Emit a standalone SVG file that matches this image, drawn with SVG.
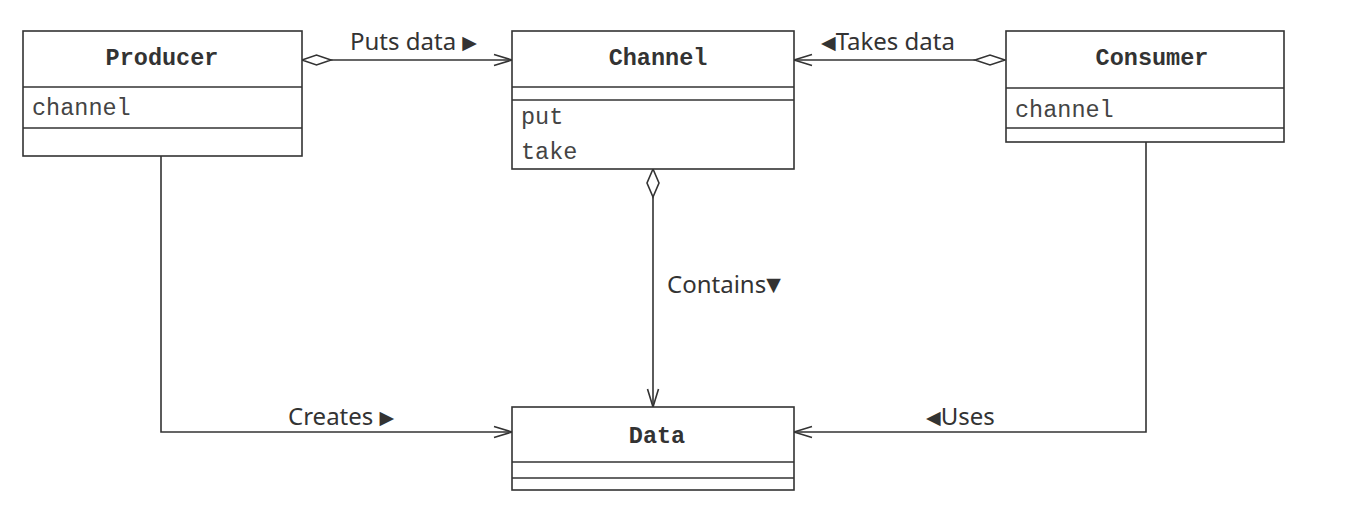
<svg xmlns="http://www.w3.org/2000/svg" width="1347" height="505" viewBox="0 0 1347 505">
<style>
.box{fill:#fff;stroke:#333;stroke-width:1.6}
.div{stroke:#333;stroke-width:1.6}
.title{font-family:"Liberation Mono",monospace;font-weight:bold;font-size:23.5px;fill:#333;text-anchor:middle}
.attr{font-family:"Liberation Mono",monospace;font-size:23.5px;fill:#444}
.lbl{font-family:"Noto Sans",sans-serif;font-size:24px;fill:#333}
.tri{font-family:"DejaVu Sans",sans-serif;font-size:19px;fill:#333}
.con{fill:none;stroke:#333;stroke-width:1.6}
.dia{fill:#fff;stroke:#333;stroke-width:1.6}
</style>
<defs>
<marker id="open" markerUnits="userSpaceOnUse" markerWidth="20" markerHeight="14" viewBox="0 0 20 14" refX="19" refY="7" orient="auto">
<path d="M1,1.5 L19,7 L1,12.5" fill="none" stroke="#333" stroke-width="1.6"/>
</marker>
</defs>
<rect width="1347" height="505" fill="#fff"/>
<g id="connectors">
<line class="con" x1="331" y1="60" x2="512" y2="60" marker-end="url(#open)"/>
<polygon class="dia" points="302,60 316.5,55 331,60 316.5,65"/>
<line class="con" x1="975" y1="60" x2="794" y2="60" marker-end="url(#open)"/>
<polygon class="dia" points="1005,60 990,55 975,60 990,65"/>
<line class="con" x1="653" y1="197" x2="653" y2="407" marker-end="url(#open)"/>
<polygon class="dia" points="653,169 659,183 653,197 647,183"/>
<polyline class="con" points="161,156 161,432 512,432" marker-end="url(#open)"/>
<polyline class="con" points="1146,142 1146,432 794,432" marker-end="url(#open)"/>
<text class="lbl" x="350" y="50">Puts data <tspan class="tri" dy="-1">▶</tspan></text>
<text class="lbl" x="821" y="50"><tspan class="tri" dy="-1">◀</tspan><tspan dy="1">Takes data</tspan></text>
<text class="lbl" x="667" y="293">Contains<tspan class="tri" dy="-2">▼</tspan></text>
<text class="lbl" x="288" y="425">Creates <tspan class="tri" dy="-1">▶</tspan></text>
<text class="lbl" x="926" y="425"><tspan class="tri" dy="-1">◀</tspan><tspan dy="1">Uses</tspan></text>
</g>
<g id="producer">
<rect class="box" x="23" y="31" width="279" height="125"/>
<line class="div" x1="23" y1="87" x2="302" y2="87"/>
<line class="div" x1="23" y1="128" x2="302" y2="128"/>
<text class="title" x="162" y="65">Producer</text>
<text class="attr" x="32" y="115">channel</text>
</g>
<g id="channel">
<rect class="box" x="512" y="31" width="282" height="138"/>
<line class="div" x1="512" y1="87" x2="794" y2="87"/>
<line class="div" x1="512" y1="100" x2="794" y2="100"/>
<text class="title" x="658" y="65">Channel</text>
<text class="attr" x="521" y="124">put</text>
<text class="attr" x="521" y="159">take</text>
</g>
<g id="consumer">
<rect class="box" x="1006" y="31" width="278" height="111"/>
<line class="div" x1="1006" y1="88" x2="1284" y2="88"/>
<line class="div" x1="1006" y1="128" x2="1284" y2="128"/>
<text class="title" x="1152" y="65">Consumer</text>
<text class="attr" x="1015" y="117">channel</text>
</g>
<g id="data">
<rect class="box" x="512" y="407" width="282" height="83"/>
<line class="div" x1="512" y1="462" x2="794" y2="462"/>
<line class="div" x1="512" y1="478" x2="794" y2="478"/>
<text class="title" x="657" y="443">Data</text>
</g>
</svg>
